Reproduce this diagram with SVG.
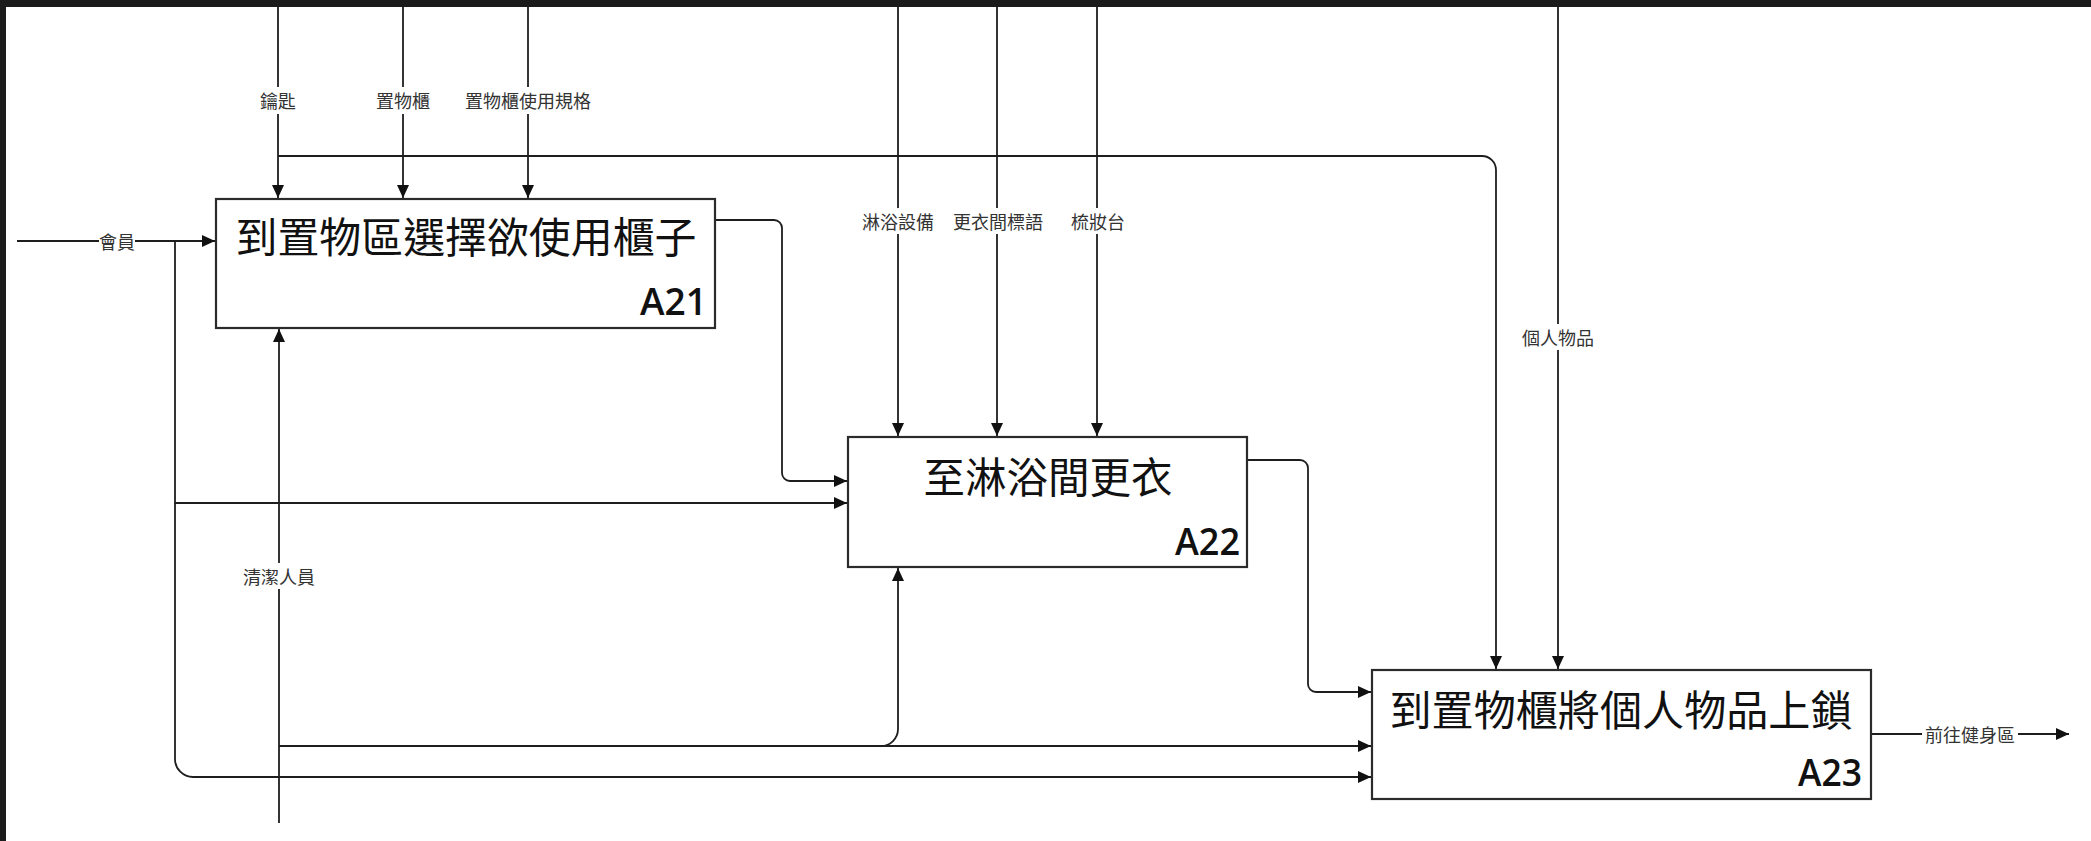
<svg xmlns="http://www.w3.org/2000/svg" width="2091" height="841" viewBox="0 0 2091 841">
<defs>
<style>
.bg{fill:#ffffff}
.frame{fill:#1b1b1b}
.box{fill:#ffffff;stroke:#2b2b2b;stroke-width:2.2}
.title{font-family:"Noto Sans CJK TC","Noto Sans CJK SC",sans-serif;font-size:42px;fill:#111111;text-anchor:middle}
.code{font-family:"Open Sans","Liberation Sans",sans-serif;font-size:37px;font-weight:600;fill:#111111;text-anchor:end}
.conn{fill:none;stroke:#1e1e1e;stroke-width:1.8}
.lbl{font-family:"Noto Sans CJK TC","Noto Sans CJK SC",sans-serif;font-size:18px;fill:#333333;text-anchor:middle;dominant-baseline:central}
.lblbg{fill:#ffffff}
</style>
<marker id="arr" markerUnits="userSpaceOnUse" markerWidth="14" markerHeight="12" refX="13" refY="6" orient="auto">
<path d="M0,0 L13,6 L0,12 Z" fill="#111111"/>
</marker>
</defs>
<rect class="bg" x="0" y="0" width="2091" height="841"/>

<g id="connectors">
<path class="conn" d="M278,0 L278,198" marker-end="url(#arr)"/>
<path class="conn" d="M403,0 L403,198" marker-end="url(#arr)"/>
<path class="conn" d="M528,0 L528,198" marker-end="url(#arr)"/>
<path class="conn" d="M278,156 L1482,156 A14,14 0 0 1 1496,170 L1496,669" marker-end="url(#arr)"/>
<path class="conn" d="M898,0 L898,436" marker-end="url(#arr)"/>
<path class="conn" d="M997,0 L997,436" marker-end="url(#arr)"/>
<path class="conn" d="M1097,0 L1097,436" marker-end="url(#arr)"/>
<path class="conn" d="M1558,0 L1558,669" marker-end="url(#arr)"/>
<path class="conn" d="M17,241 L215,241" marker-end="url(#arr)"/>
<path class="conn" d="M175,241 L175,503 L847,503" marker-end="url(#arr)"/>
<path class="conn" d="M175,503 L175,759 A18,18 0 0 0 193,777 L1371,777" marker-end="url(#arr)"/>
<path class="conn" d="M716,220 L774,220 A8,8 0 0 1 782,228 L782,473 A8,8 0 0 0 790,481 L847,481" marker-end="url(#arr)"/>
<path class="conn" d="M1248,460 L1300,460 A8,8 0 0 1 1308,468 L1308,684 A8,8 0 0 0 1316,692 L1371,692" marker-end="url(#arr)"/>
<path class="conn" d="M279,823 L279,329" marker-end="url(#arr)"/>
<path class="conn" d="M279,746 L1371,746" marker-end="url(#arr)"/>
<path class="conn" d="M881,746 A17,17 0 0 0 898,729 L898,568" marker-end="url(#arr)"/>
<path class="conn" d="M1872,734 L2069,734" marker-end="url(#arr)"/>
</g>

<g id="labels">
<rect class="lblbg" x="260" y="87" width="36" height="27"/>
<text class="lbl" x="278" y="100">鑰匙</text>
<rect class="lblbg" x="375" y="87" width="56" height="27"/>
<text class="lbl" x="403" y="100">置物櫃</text>
<rect class="lblbg" x="462" y="87" width="132" height="27"/>
<text class="lbl" x="528" y="100">置物櫃使用規格</text>
<rect class="lblbg" x="99" y="230" width="36" height="22"/>
<text class="lbl" x="117" y="241">會員</text>
<rect class="lblbg" x="860" y="208" width="76" height="26"/>
<text class="lbl" x="898" y="221">淋浴設備</text>
<rect class="lblbg" x="951" y="208" width="94" height="26"/>
<text class="lbl" x="998" y="221">更衣間標語</text>
<rect class="lblbg" x="1069" y="208" width="58" height="26"/>
<text class="lbl" x="1098" y="221">梳妝台</text>
<rect class="lblbg" x="1521" y="324" width="74" height="26"/>
<text class="lbl" x="1558" y="337">個人物品</text>
<rect class="lblbg" x="242" y="563" width="74" height="26"/>
<text class="lbl" x="279" y="576">清潔人員</text>
<rect class="lblbg" x="1922" y="723" width="96" height="22"/>
<text class="lbl" x="1970" y="734">前往健身區</text>
</g>

<g id="A21">
<rect class="box" x="216" y="199" width="499" height="129"/>
<text class="title" x="466" y="253" textLength="461" lengthAdjust="spacingAndGlyphs">到置物區選擇欲使用櫃子</text>
<text class="code" x="707" y="315" textLength="67" lengthAdjust="spacingAndGlyphs">A21</text>
</g>

<g id="A22">
<rect class="box" x="848" y="437" width="399" height="130"/>
<text class="title" x="1048" y="493" textLength="249" lengthAdjust="spacingAndGlyphs">至淋浴間更衣</text>
<text class="code" x="1240" y="555" textLength="65" lengthAdjust="spacingAndGlyphs">A22</text>
</g>

<g id="A23">
<rect class="box" x="1372" y="670" width="499" height="129"/>
<text class="title" x="1621" y="726" textLength="463" lengthAdjust="spacingAndGlyphs">到置物櫃將個人物品上鎖</text>
<text class="code" x="1862" y="786" textLength="64" lengthAdjust="spacingAndGlyphs">A23</text>
</g>

<rect class="frame" x="0" y="0" width="2091" height="7"/>
<rect class="frame" x="0" y="0" width="6" height="841"/>
</svg>
